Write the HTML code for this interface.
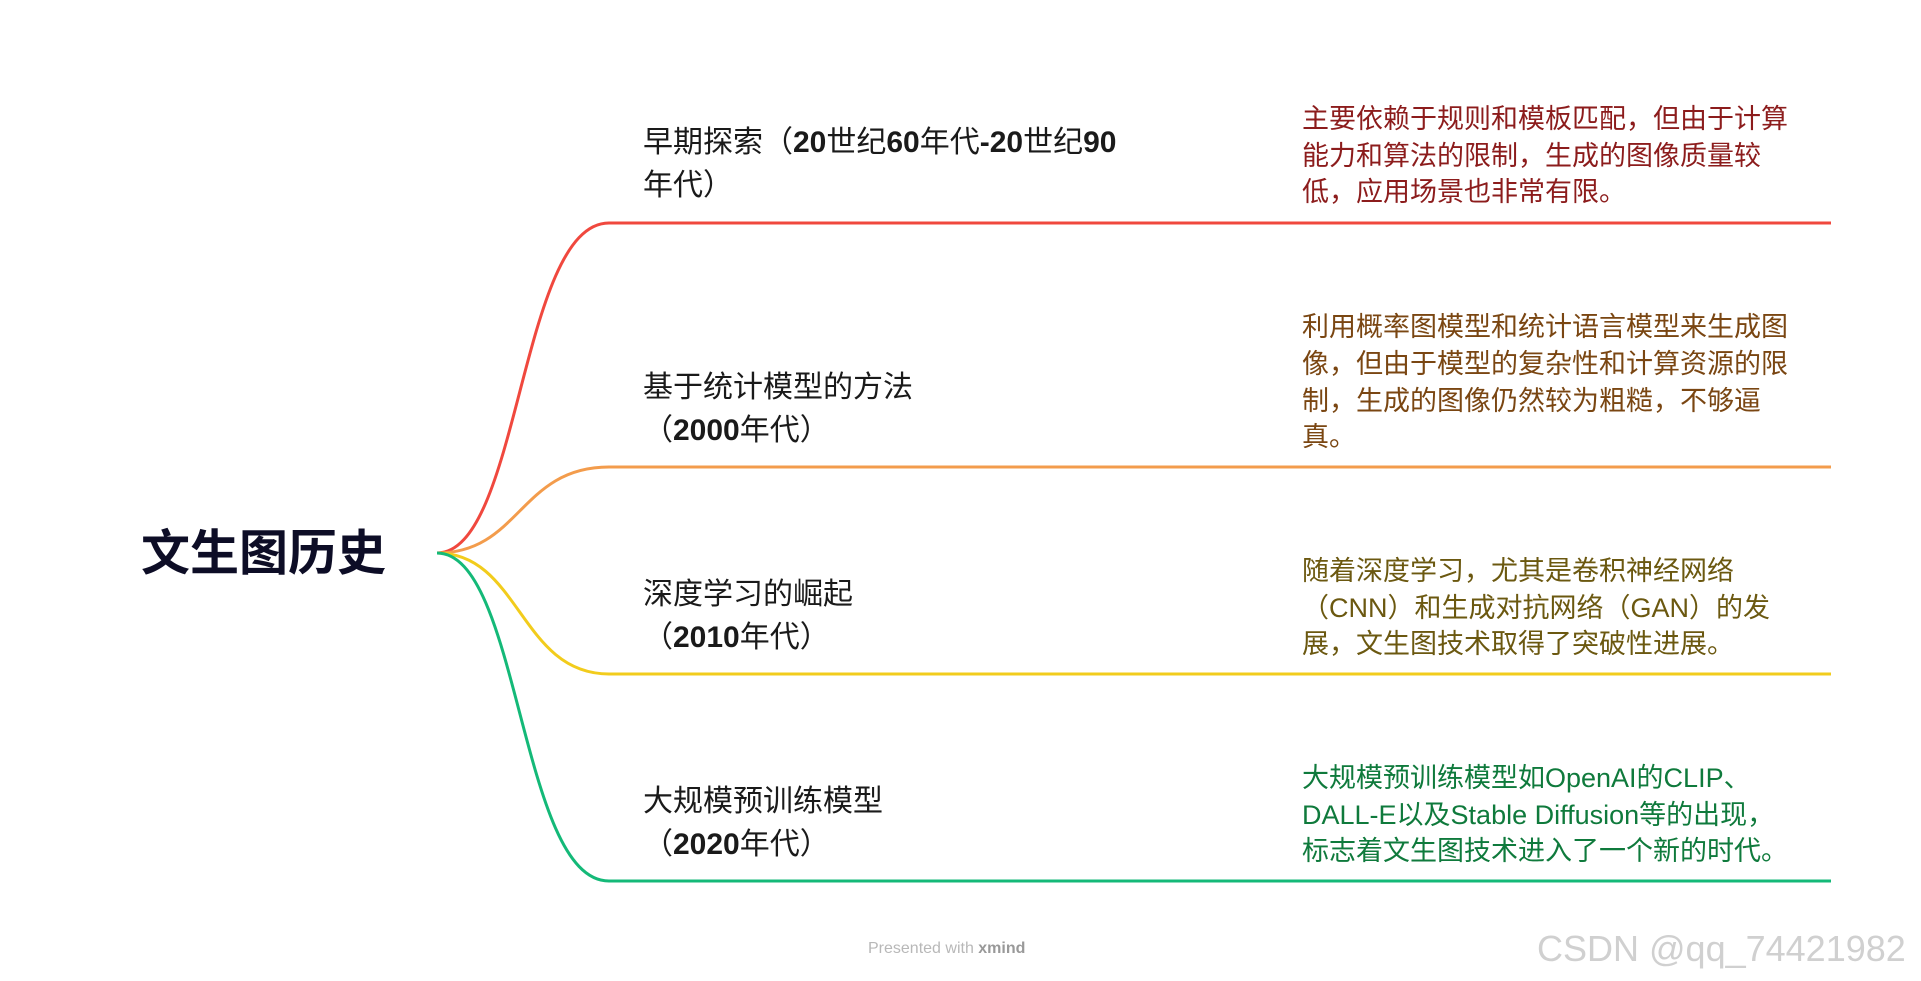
<!DOCTYPE html>
<html><head><meta charset="utf-8"><style>
html,body{margin:0;padding:0;background:#fff;}
body{width:1921px;height:981px;position:relative;overflow:hidden;font-family:"Liberation Sans","Noto Sans CJK SC",sans-serif;}
.t{position:absolute;white-space:nowrap;line-height:1;}
.topic{font-size:30px;color:#1a1a1a;}
.topic b{font-weight:bold;}
.desc{font-size:27px;}
</style></head><body>
<svg width="1921" height="981" style="position:absolute;left:0;top:0">
<g fill="none" stroke-width="3">
<path d="M437,553 C520,553 520,223 609,223 L1831,223" stroke="#f0483e"/>
<path d="M437,553 C520,553 520,467 609,467 L1831,467" stroke="#f39c4c"/>
<path d="M437,553 C520,553 520,674 609,674 L1831,674" stroke="#f2cc1c"/>
<path d="M437,553 C520,553 520,881 609,881 L1831,881" stroke="#14b978"/>
</g>
</svg>
<div class="t" style="left:141px;top:530px;font-size:49px;font-weight:bold;color:#0d0d26">文生图历史</div>

<div class="t topic" style="left:643px;top:128px">早期探索（<b>20</b>世纪<b>60</b>年代<b>-20</b>世纪<b>90</b></div>
<div class="t topic" style="left:643px;top:171px">年代）</div>
<div class="t topic" style="left:643px;top:373px">基于统计模型的方法</div>
<div class="t topic" style="left:643px;top:416px">（<b>2000</b>年代）</div>
<div class="t topic" style="left:643px;top:580px">深度学习的崛起</div>
<div class="t topic" style="left:643px;top:623px">（<b>2010</b>年代）</div>
<div class="t topic" style="left:643px;top:787px">大规模预训练模型</div>
<div class="t topic" style="left:643px;top:830px">（<b>2020</b>年代）</div>

<div class="t desc" style="left:1302px;top:106px;color:#8c1c1c">主要依赖于规则和模板匹配，但由于计算</div>
<div class="t desc" style="left:1302px;top:143px;color:#8c1c1c">能力和算法的限制，生成的图像质量较</div>
<div class="t desc" style="left:1302px;top:179px;color:#8c1c1c">低，应用场景也非常有限。</div>

<div class="t desc" style="left:1302px;top:314px;color:#7a4612">利用概率图模型和统计语言模型来生成图</div>
<div class="t desc" style="left:1302px;top:351px;color:#7a4612">像，但由于模型的复杂性和计算资源的限</div>
<div class="t desc" style="left:1302px;top:388px;color:#7a4612">制，生成的图像仍然较为粗糙，不够逼</div>
<div class="t desc" style="left:1302px;top:424px;color:#7a4612">真。</div>

<div class="t desc" style="left:1302px;top:558px;color:#6b5810">随着深度学习，尤其是卷积神经网络</div>
<div class="t desc" style="left:1302px;top:595px;color:#6b5810">（CNN）和生成对抗网络（GAN）的发</div>
<div class="t desc" style="left:1302px;top:631px;color:#6b5810">展，文生图技术取得了突破性进展。</div>

<div class="t desc" style="left:1302px;top:765px;color:#0f7a3c">大规模预训练模型如OpenAI的CLIP、</div>
<div class="t desc" style="left:1302px;top:802px;color:#0f7a3c">DALL-E以及Stable Diffusion等的出现，</div>
<div class="t desc" style="left:1302px;top:838px;color:#0f7a3c">标志着文生图技术进入了一个新的时代。</div>

<div class="t" style="left:868px;top:941px;font-size:16px;color:#b8b8b8">Presented with <b style="color:#999">xmind</b></div>
<div class="t" style="left:1537px;top:931px;font-size:36px;color:#d0d0d0">CSDN @qq_74421982</div>
</body></html>
